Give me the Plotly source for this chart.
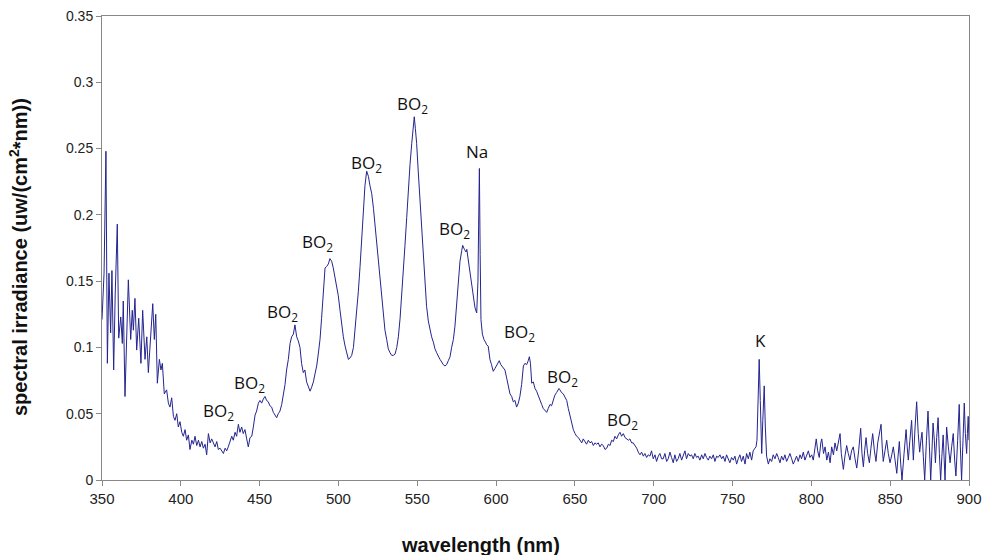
import plotly.graph_objects as go

wavelength = [
350.0,351.3,352.5,353.4,354.4,355.5,356.3,357.4,358.4,359.7,360.6,361.9,362.9,363.5,364.6,365.6,366.7,368.2,369.2,369.9,
370.9,372.0,373.3,374.7,375.8,377.3,378.4,379.4,381.1,382.2,383.2,384.1,385.1,386.4,387.4,388.3,389.5,391.0,392.1,393.1,
394.2,395.3,396.3,397.4,398.4,399.5,400.6,401.6,402.7,403.7,404.8,405.8,407.0,408.0,409.0,410.1,411.2,412.2,413.3,414.3,
415.4,416.4,417.5,418.6,419.6,420.6,421.7,422.8,423.8,424.9,426.0,427.0,428.1,429.1,430.1,431.2,432.3,433.3,434.4,435.4,
436.5,437.5,438.6,439.6,440.7,441.8,442.8,443.9,445.0,446.0,447.1,448.1,449.2,450.2,451.3,452.3,453.4,454.4,455.5,456.5,
457.6,458.7,459.7,460.8,461.8,462.9,464.0,465.0,466.1,467.1,468.2,469.3,470.3,471.4,472.4,473.5,474.5,475.6,476.6,477.7,
478.7,479.8,480.9,482.0,483.0,484.1,485.1,486.2,487.2,488.3,489.3,490.4,491.5,492.5,493.6,494.6,495.7,496.7,497.8,498.9,
499.9,501.0,502.0,503.1,504.2,505.2,506.3,507.3,508.4,509.5,510.5,511.6,512.6,513.7,514.7,515.8,516.8,517.9,519.0,520.0,
521.1,522.2,523.2,524.3,525.3,526.4,527.4,528.5,529.5,530.6,531.6,532.7,533.8,534.8,535.9,537.0,538.0,539.1,540.1,541.1,
542.2,543.3,544.3,545.4,546.5,547.5,548.1,548.8,549.6,550.6,551.7,552.8,553.8,554.9,555.9,557.0,558.0,559.1,560.2,561.2,
562.3,563.3,564.4,565.5,566.5,567.6,568.6,569.7,570.8,571.8,572.9,573.9,575.0,576.1,577.1,578.2,578.8,579.9,580.9,581.4,
582.5,583.5,584.5,585.6,586.6,587.7,588.5,589.0,589.4,589.9,590.4,591.3,592.3,593.3,594.0,595.0,596.1,597.1,598.2,599.2,
600.3,601.4,602.0,603.0,604.5,605.6,606.7,607.7,608.8,609.9,610.9,612.0,613.0,614.1,615.1,616.2,617.3,618.3,619.4,620.4,
621.1,621.8,622.6,623.6,624.7,625.7,626.8,627.8,628.9,629.9,631.0,632.1,633.1,634.2,635.2,636.3,637.3,638.4,639.9,640.5,
641.5,642.6,643.7,644.8,645.8,646.9,647.9,649.0,650.1,651.1,652.2,653.2,654.3,655.3,656.4,657.4,658.5,659.6,660.6,661.7,
662.7,663.8,664.8,665.9,666.9,668.0,669.1,670.2,671.2,672.3,673.3,674.4,675.4,676.5,677.5,678.6,679.6,680.7,681.8,682.8,
683.9,684.9,686.0,687.0,688.1,689.2,690.2,691.3,692.3,693.4,694.4,695.5,696.5,697.6,698.6,699.7,700.8,701.8,702.9,703.9,
705.0,706.0,707.1,708.2,709.2,710.3,711.3,712.4,713.4,714.5,715.5,716.6,717.7,718.7,719.8,720.8,721.9,723.0,724.0,725.1,
726.1,727.2,728.2,729.3,730.4,731.4,732.5,733.5,734.6,735.6,736.7,737.8,738.8,739.9,740.9,742.0,743.1,744.1,745.2,746.2,
747.3,748.3,749.4,750.5,751.5,752.6,753.6,754.7,755.7,756.8,757.9,758.9,760.0,761.0,762.1,763.1,764.2,764.9,765.5,766.3,
766.9,767.6,768.5,769.2,770.1,770.8,771.6,772.7,773.7,774.8,775.8,776.9,778.0,779.0,780.1,781.1,782.2,783.2,784.3,785.4,
786.4,787.5,788.5,789.6,790.6,791.7,792.8,793.8,794.9,795.9,797.0,798.1,799.1,800.2,801.2,802.3,803.1,804.0,805.0,806.0,
806.6,807.7,808.7,809.8,810.8,811.9,812.9,814.0,815.0,816.1,817.2,818.2,819.0,820.3,821.3,822.4,823.4,824.5,825.5,826.6,
827.7,828.8,830.0,831.3,832.1,833.0,833.8,834.7,835.7,836.8,837.8,838.9,840.0,841.0,842.1,843.2,844.2,845.0,845.6,846.7,
847.8,848.8,849.9,851.0,852.0,853.1,854.2,855.0,855.8,856.7,857.5,858.8,860.1,860.8,861.5,862.5,863.6,864.2,864.7,865.8,
866.8,867.8,868.7,869.5,870.2,871.0,871.9,873.0,874.0,874.9,875.7,876.5,877.2,878.0,878.7,879.5,880.4,881.2,882.0,882.8,
883.6,884.8,885.8,886.9,888.0,889.0,890.0,890.9,891.7,892.8,893.8,894.5,895.3,896.2,897.0,897.7,898.5,899.0,899.5,900.0,
]

irradiance = [
0.121,0.156,0.248,0.088,0.156,0.111,0.158,0.083,0.141,0.193,0.107,0.123,0.103,0.135,0.063,0.110,0.151,0.106,0.128,0.113,
0.137,0.098,0.122,0.088,0.128,0.091,0.108,0.081,0.113,0.133,0.106,0.125,0.073,0.091,0.083,0.088,0.065,0.068,0.058,0.055,
0.062,0.048,0.045,0.050,0.040,0.044,0.036,0.033,0.038,0.030,0.034,0.023,0.030,0.027,0.033,0.026,0.030,0.025,0.029,0.024,
0.027,0.019,0.035,0.028,0.031,0.028,0.025,0.029,0.023,0.024,0.022,0.020,0.024,0.022,0.025,0.030,0.033,0.030,0.036,0.033,
0.042,0.036,0.040,0.035,0.038,0.031,0.025,0.032,0.033,0.040,0.049,0.052,0.058,0.060,0.058,0.061,0.063,0.060,0.059,0.056,
0.055,0.051,0.049,0.047,0.050,0.052,0.057,0.064,0.072,0.083,0.091,0.103,0.108,0.110,0.117,0.108,0.105,0.100,0.088,0.081,
0.083,0.074,0.071,0.067,0.070,0.074,0.080,0.086,0.095,0.106,0.122,0.141,0.160,0.161,0.163,0.167,0.165,0.160,0.153,0.146,
0.139,0.128,0.118,0.108,0.101,0.096,0.091,0.092,0.094,0.100,0.112,0.126,0.142,0.161,0.181,0.204,0.222,0.233,0.229,0.222,
0.216,0.205,0.193,0.181,0.166,0.153,0.141,0.125,0.113,0.106,0.099,0.096,0.094,0.094,0.095,0.100,0.108,0.122,0.138,0.156,
0.177,0.198,0.219,0.238,0.254,0.266,0.274,0.265,0.254,0.233,0.211,0.189,0.168,0.147,0.131,0.120,0.113,0.108,0.104,0.099,
0.096,0.093,0.091,0.089,0.087,0.086,0.087,0.090,0.093,0.100,0.106,0.116,0.132,0.151,0.165,0.173,0.177,0.174,0.172,0.174,
0.165,0.157,0.148,0.140,0.130,0.126,0.150,0.200,0.235,0.170,0.121,0.110,0.106,0.104,0.102,0.101,0.091,0.087,0.082,0.084,
0.086,0.089,0.090,0.087,0.085,0.083,0.077,0.071,0.065,0.063,0.059,0.060,0.055,0.058,0.063,0.072,0.086,0.088,0.087,0.090,
0.093,0.088,0.073,0.074,0.069,0.067,0.064,0.060,0.057,0.054,0.052,0.051,0.054,0.057,0.056,0.060,0.064,0.066,0.069,0.068,
0.066,0.065,0.062,0.060,0.054,0.048,0.042,0.038,0.035,0.033,0.032,0.030,0.028,0.031,0.029,0.027,0.030,0.028,0.029,0.026,
0.028,0.027,0.028,0.025,0.027,0.026,0.023,0.024,0.027,0.026,0.030,0.029,0.033,0.031,0.034,0.036,0.033,0.035,0.032,0.031,
0.030,0.031,0.028,0.028,0.026,0.024,0.021,0.019,0.021,0.018,0.020,0.017,0.019,0.018,0.022,0.016,0.019,0.014,0.018,0.020,
0.016,0.016,0.020,0.014,0.016,0.021,0.017,0.013,0.019,0.014,0.016,0.020,0.015,0.018,0.022,0.016,0.020,0.018,0.019,0.016,
0.020,0.017,0.018,0.015,0.019,0.016,0.020,0.017,0.015,0.018,0.016,0.019,0.014,0.018,0.017,0.019,0.016,0.018,0.014,0.019,
0.016,0.013,0.017,0.015,0.018,0.012,0.016,0.019,0.014,0.018,0.012,0.020,0.016,0.021,0.015,0.022,0.024,0.025,0.030,0.060,
0.091,0.060,0.020,0.045,0.071,0.040,0.018,0.012,0.016,0.014,0.019,0.016,0.020,0.017,0.013,0.018,0.015,0.019,0.014,0.017,
0.020,0.016,0.012,0.015,0.018,0.014,0.019,0.016,0.021,0.015,0.018,0.022,0.017,0.019,0.015,0.024,0.031,0.022,0.017,0.028,
0.031,0.020,0.025,0.015,0.021,0.013,0.025,0.019,0.028,0.022,0.030,0.035,0.020,0.008,0.018,0.026,0.020,0.015,0.022,0.025,
0.016,0.009,0.022,0.039,0.020,0.010,0.022,0.032,0.020,0.013,0.024,0.035,0.022,0.014,0.028,0.035,0.042,0.024,0.014,0.022,
0.030,0.020,0.013,0.019,0.025,0.015,0.005,0.018,0.029,0.012,0.000,0.020,0.038,0.025,0.015,0.030,0.045,0.028,0.015,0.040,
0.059,0.035,0.021,0.030,0.036,0.018,0.000,0.030,0.052,0.025,0.000,0.022,0.043,0.030,0.013,0.032,0.047,0.020,0.000,0.018,
0.034,0.000,0.040,0.025,0.013,0.025,0.035,0.015,0.003,0.030,0.057,0.025,0.000,0.030,0.058,0.035,0.020,0.035,0.048,0.030,
]

label_text = ["BO<sub>2</sub>"] * 10 + ["Na", "K"]
label_x = [423.6, 443.3, 464.8, 487.0, 518.1, 546.7, 573.9, 614.8, 642.4, 680.5, 588.2, 767.5]
label_y = [0.0513, 0.073, 0.126, 0.179, 0.239, 0.283, 0.189, 0.111, 0.077, 0.045, 0.248, 0.1056]

y_ticks = [0, 0.05, 0.1, 0.15, 0.2, 0.25, 0.3, 0.35]
x_ticks = [350, 400, 450, 500, 550, 600, 650, 700, 750, 800, 850, 900]

ML, MR, MT, MB = 102, 16, 16, 75
W, H = 985, 555
PW = W - ML - MR
PH = H - MT - MB

fig = go.Figure()
fig.add_trace(go.Scatter(
    x=wavelength, y=irradiance, mode="lines",
    line=dict(color="#24248f", width=1), showlegend=False, hoverinfo="skip"))

for t, x, y in zip(label_text, label_x, label_y):
    fig.add_annotation(x=x, y=y, text=t, showarrow=False,
                       font=dict(family="Open Sans", size=17, color="#111111"))

fig.add_annotation(xref="paper", yref="paper", x=(480 - ML) / PW, y=-(545 - (H - MB)) / PH,
                   text="<b>wavelength (nm)</b>", showarrow=False,
                   xanchor="center", yanchor="middle",
                   font=dict(family="Liberation Sans", size=20, color="#111111"))
fig.add_annotation(xref="paper", yref="paper", x=(18 - ML) / PW, y=((H - MB) - 257) / PH,
                   text="<b>spectral irradiance (uw/(cm<sup>2</sup>*nm))</b>", showarrow=False,
                   textangle=-90, xanchor="center", yanchor="middle",
                   font=dict(family="Liberation Sans", size=20, color="#111111"))

axis_common = dict(showgrid=False, zeroline=False, showline=True, linecolor="#888888",
                   linewidth=1, mirror=True, ticks="outside", ticklen=5,
                   tickcolor="#888888", automargin=False)

fig.update_xaxes(range=[350, 900], tickvals=x_ticks, ticktext=[str(v) for v in x_ticks],
                 tickfont=dict(family="Liberation Sans", size=15, color="#222222"),
                 **axis_common)
fig.update_yaxes(range=[0, 0.35], tickvals=y_ticks, ticktext=[f"{v:g}" for v in y_ticks],
                 tickfont=dict(family="Liberation Sans", size=14, color="#222222"),
                 **axis_common)

fig.update_layout(width=W, height=H, margin=dict(l=ML, r=MR, t=MT, b=MB, autoexpand=False),
                  paper_bgcolor="white", plot_bgcolor="white")

fig.write_html("out.html")
